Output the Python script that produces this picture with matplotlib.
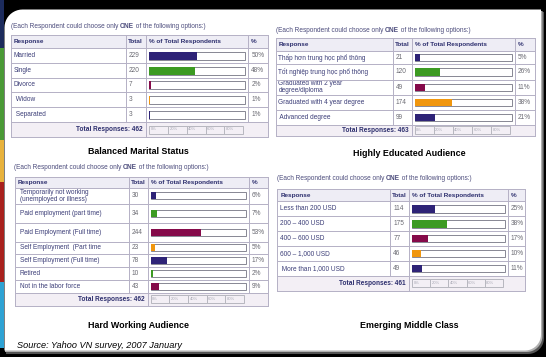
#!/usr/bin/env python3
# Yahoo VN survey slide: four small html-style tables with bars

import numpy as np
import matplotlib
matplotlib.use('Agg')
import matplotlib.pyplot as plt
from matplotlib.patches import Rectangle, PathPatch
from matplotlib.path import Path

# ---- data ----
marital_resp = ['Married', 'Single', 'Divorce', ' Widow', ' Separated']
marital_tot = [229, 220, 7, 3, 3]
marital_pct = [50, 48, 2, 1, 1]
marital_all = 462

edu_resp = ['Thấp hơn trung học phổ thông', 'Tốt nghiệp trung học phổ thông',
            'Graduated with 2 year\ndegree/diploma', 'Graduated with 4 year degree',
            ' Advanced degree']
edu_tot = [21, 120, 49, 174, 99]
edu_pct = [5, 26, 11, 38, 21]
edu_all = 463

work_resp = ['Temporarily not working\n(unemployed or illness)', 'Paid employment (part time)',
             'Paid Employment (Full time)', 'Self Employment  (Part time',
             'Self Employment (Full time)', 'Retired', 'Not in the labor force']
work_tot = [30, 34, 244, 23, 78, 10, 43]
work_pct = [6, 7, 53, 5, 17, 2, 9]
work_all = 462

inc_resp = ['Less than 200 USD', '200 – 400 USD', '400 – 600 USD', '600 – 1,000 USD',
            ' More than 1,000 USD']
inc_tot = [114, 175, 77, 46, 49]
inc_pct = [25, 38, 17, 10, 11]
inc_all = 461

scale_labels = ['0%', '20%', '40%', '60%', '80%']
titles = ['Balanced Marital Status', 'Highly Educated Audience',
          'Hard Working Audience', 'Emerging Middle Class']
caption = ['(Each Respondent could choose only ', 'ONE', ' of the following options:)']
source = 'Source: Yahoo VN survey, 2007 January'

bar_colors = ['#2e2377', '#3c9a22', '#850a4a', '#f0960e']

# ---- styles ----
FONT = 'Liberation Sans'
NAVY = '#2d2f6e'
GRAY = '#6a6a72'
LINE = '#b6b2c6'
HEAD_BG = '#eeedf5'
TOT_BG = '#f3eff5'
PX = 0.72  # one pixel in points

W, H = 546, 357
fig = plt.figure(figsize=(W / 100, H / 100), dpi=100, facecolor='black')
ax = fig.add_axes([0, 0, 1, 1])
ax.set_xlim(0, W)
ax.set_ylim(H, 0)
ax.axis('off')
ax.set_facecolor('black')

# left colour stripe
stripe = [(0, 48, '#1c2b5c'), (48, 140, '#4a9a36'), (140, 182, '#e8b23c'),
          (182, 282, '#a8201c'), (282, 348, '#2ea2d4')]
for y0, y1, c in stripe:
    ax.add_patch(Rectangle((0, y0), 3.5, y1 - y0, color=c, lw=0))


def card_path(x0, y0, x1, y1, r_tl, r_br):
    t = np.linspace(0, np.pi / 2, 12)
    pts = [(x1, y0), (x1, y1 - r_br)]
    pts += [(x1 - r_br + r_br * np.cos(a), y1 - r_br + r_br * np.sin(a)) for a in t]
    pts += [(x0, y1), (x0, y0 + r_tl)]
    pts += [(x0 + r_tl - r_tl * np.cos(a), y0 + r_tl - r_tl * np.sin(a)) for a in t]
    pts.append((x1, y0))
    return Path(pts)


# soft shadow then the white card
ax.add_patch(PathPatch(card_path(6, 12, 544, 354, 18, 16), fc='#555555', ec='none'))
ax.add_patch(PathPatch(card_path(5, 11, 542.5, 352, 18, 16), fc='#b0b0b0', ec='none'))
ax.add_patch(PathPatch(card_path(4.5, 9.5, 541, 350.5, 18, 16), fc='white', ec='none'))

fig.canvas.draw()
renderer = fig.canvas.get_renderer()
inv = ax.transData.inverted()


def put_caption(x, y):
    for i, part in enumerate(caption):
        t = ax.text(x, y, part, fontsize=4.7, family=FONT, color='#4c4c7c',
                    fontweight='bold' if i == 1 else 'normal', va='center', ha='left')
        bb = t.get_window_extent(renderer)
        x = inv.transform((bb.x1, bb.y0))[0]


def draw_table(lay, resp, tot, pct, n_all, title):
    x0, c1, c2, c3, x1 = lay['cols']
    top = lay['top']
    hh = lay['head']
    rows = lay['rows']
    th = lay['tot_h']
    bottom = top + hh + sum(rows) + th
    put_caption(lay['cap'][0], lay['cap'][1])

    # header
    ax.add_patch(Rectangle((x0, top), x1 - x0, hh, fc=HEAD_BG, ec='none'))
    ym = top + hh / 2
    kw = dict(fontsize=4.6, family=FONT, color=NAVY, fontweight='bold', va='center')
    ax.text(x0 + 3, ym, 'Response', **kw)
    ax.text(c1 + 2, ym, 'Total', **kw)
    ax.text(c2 + 3, ym, '% of Total Respondents', **kw)
    ax.text(c3 + 3, ym, '%', **kw)

    # rows
    edges = top + hh + np.concatenate([[0], np.cumsum(rows)])
    centers = (edges[:-1] + edges[1:]) / 2
    bx0, bx1 = c2 + 3, c3 - 3
    bw = bx1 - bx0
    for yc, r, t_, p in zip(centers, resp, tot, pct):
        ax.text(x0 + lay['indent'], yc, r, fontsize=4.7, family=FONT, color='#3c3e78',
                va='center', ha='left', linespacing=1.0)
        ax.text(c1 + 3, yc, str(t_), fontsize=4.7, family=FONT, color=GRAY, va='center')
        ax.text(c3 + 3, yc, '%d%%' % p, fontsize=4.7, family=FONT, color=GRAY, va='center')
        ax.add_patch(Rectangle((bx0, yc - lay['bar_h'] / 2), bw, lay['bar_h'],
                               fc='white', ec='#8a8a96', lw=PX, zorder=3))
    cols = [bar_colors[i % 4] for i in range(len(pct))]
    ax.barh(centers, np.array(pct) / 100 * bw, left=bx0, height=lay['bar_h'],
            color=cols, zorder=4)

    # total row
    ty = edges[-1]
    ax.add_patch(Rectangle((x0, ty), x1 - x0, th, fc=TOT_BG, ec='none'))
    ax.text(c2 - 3, ty + th / 2, 'Total Responses: %d' % n_all, fontsize=4.7,
            family=FONT, color=NAVY, fontweight='bold', va='center', ha='right')
    sw = (bw - 2) / len(scale_labels)
    for i, s in enumerate(scale_labels):
        sx = bx0 + i * sw
        ax.add_patch(Rectangle((sx, ty + th / 2 - 4), sw, 8, fc='none', ec='#b8b8c0',
                               lw=PX, zorder=3))
        ax.text(sx + 1.5, ty + th / 2, s, fontsize=3.0, family=FONT, color='#a8a8b4',
                va='center')

    # grid lines
    lk = dict(color=LINE, lw=PX, zorder=5)
    for y in [top, top + hh] + list(edges[1:]) + [bottom]:
        xe = x1 if y != edges[-1] + th else x1
        ax.plot([x0, xe], [y, y], **lk)
    ax.plot([x0, x0], [top, bottom], **lk)
    ax.plot([x1, x1], [top, bottom], **lk)
    ax.plot([c1, c1], [top, ty], **lk)
    ax.plot([c2, c2], [top, bottom], **lk)
    ax.plot([c3, c3], [top, ty], **lk)

    ax.text(lay['title'][0], lay['title'][1], title, fontsize=6.4, family=FONT,
            fontweight='bold', color='black', ha='center', va='center')


layouts = [
    dict(cols=[10.7, 126, 146, 248.3, 267.7], top=35, head=13,
         rows=[15, 15, 14, 15, 15], tot_h=15, cap=(10.7, 26), indent=3,
         bar_h=8, title=(138, 151)),
    dict(cols=[275.5, 393, 411.7, 515, 534.7], top=38, head=13,
         rows=[13, 15.5, 15.5, 15, 14.5], tot_h=11.5, cap=(275.7, 31), indent=3,
         bar_h=7.5, title=(409.7, 154)),
    dict(cols=[14.7, 128.7, 147.7, 249, 268.3], top=176.7, head=11,
         rows=[16.3, 18.7, 19, 12.3, 13, 13, 12.7], tot_h=13.3, cap=(14, 167.3),
         indent=5, bar_h=7, title=(138.3, 325.7)),
    dict(cols=[277.3, 390.3, 409, 508, 525.3], top=189, head=12.3,
         rows=[15, 15, 14.7, 15, 15], tot_h=14.7, cap=(277, 179), indent=3,
         bar_h=7.5, title=(409.7, 325.7)),
]
tables = [(marital_resp, marital_tot, marital_pct, marital_all),
          (edu_resp, edu_tot, edu_pct, edu_all),
          (work_resp, work_tot, work_pct, work_all),
          (inc_resp, inc_tot, inc_pct, inc_all)]

for lay, (r, t, p, n), ttl in zip(layouts, tables, titles):
    draw_table(lay, r, t, p, n, ttl)

ax.text(16.7, 345.7, source, fontsize=6.6, family=FONT, style='italic',
        color='black', va='center', ha='left')

fig.savefig('out.png', dpi=100, facecolor='black')
